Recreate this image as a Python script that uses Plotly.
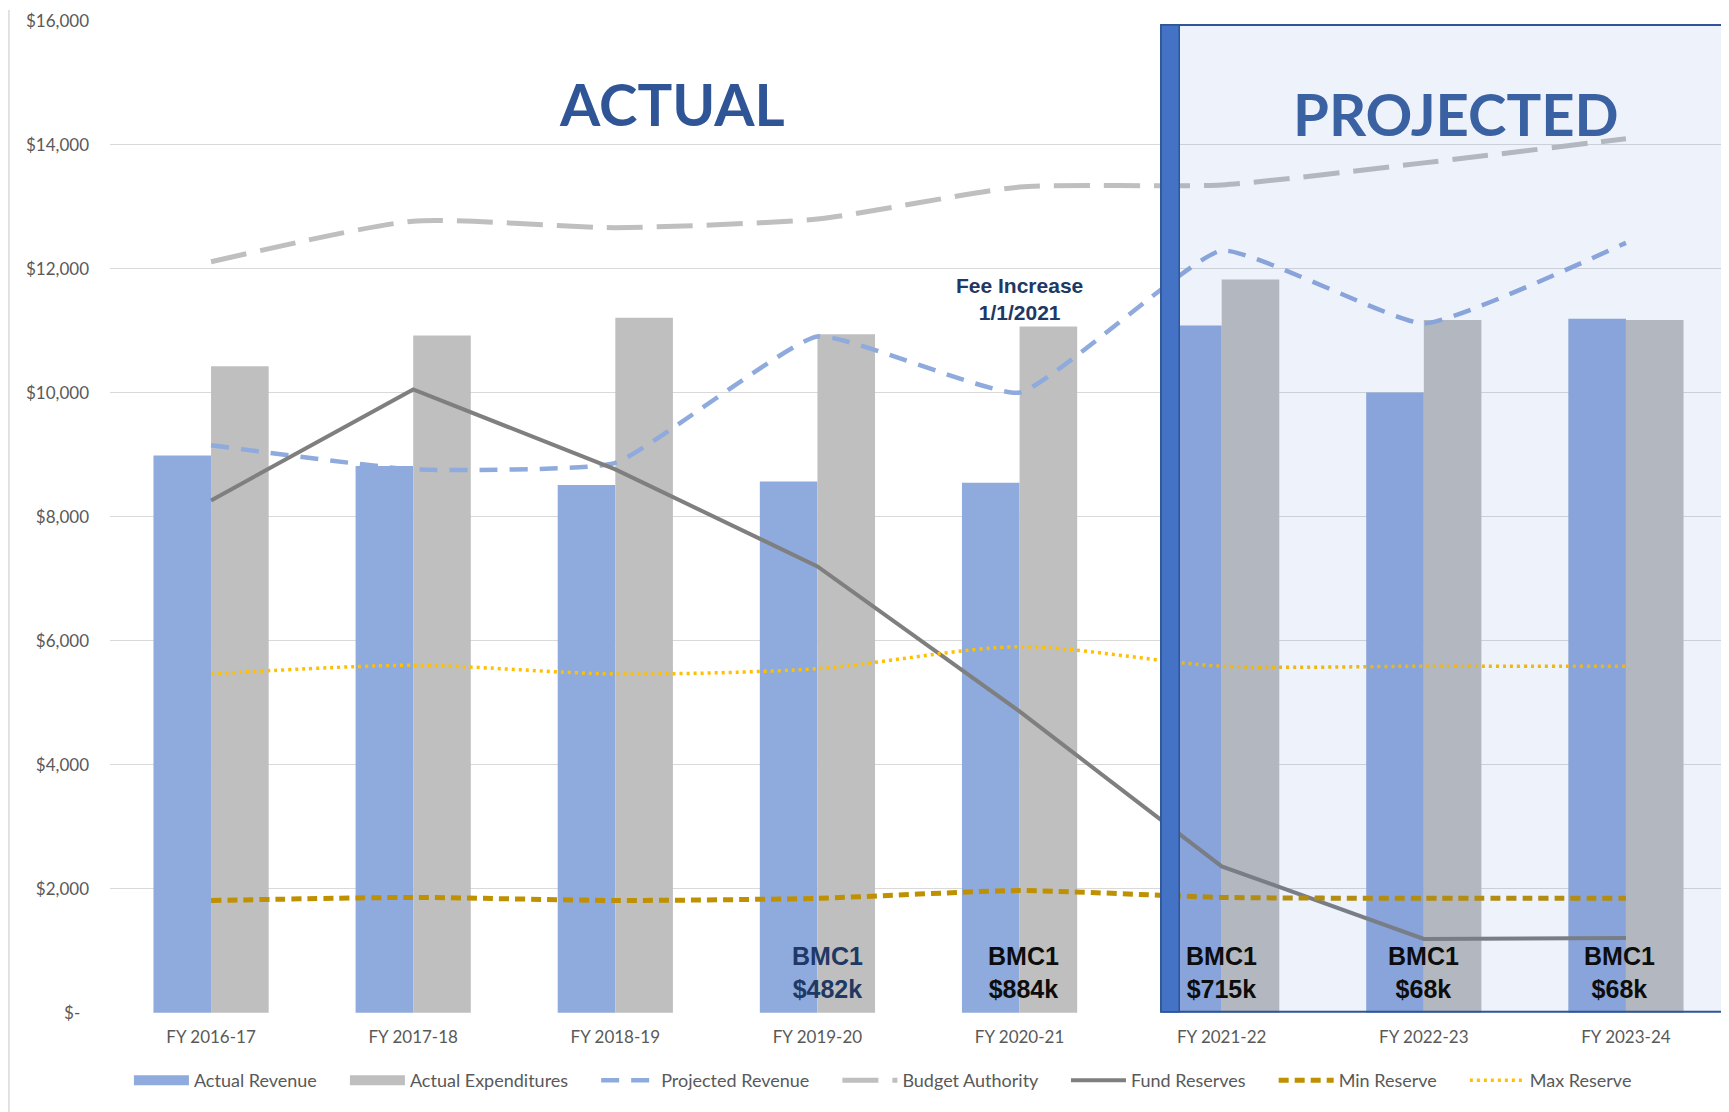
import plotly.graph_objects as go

categories = ["FY 2016-17", "FY 2017-18", "FY 2018-19", "FY 2019-20",
              "FY 2020-21", "FY 2021-22", "FY 2022-23", "FY 2023-24"]
actual_revenue = [8990, 8820, 8515, 8570, 8550, 11085, 10005, 11195]
actual_expenditures = [10430, 10925, 11210, 10945, 11070, 11830, 11175, 11175]
projected_revenue = [9155, 8765, 8870, 10910, 10005, 12295, 11120, 12420]
budget_authority = [12115, 12770, 12665, 12805, 13320, 13355, 13710, 14100]
fund_reserves = [8265, 10055, 8765, 7200, 4860, 2360, 1190, 1205]
min_reserve = [1810, 1860, 1810, 1845, 1970, 1860, 1845, 1845]
max_reserve = [5465, 5605, 5465, 5550, 5905, 5590, 5590, 5590]

ytick_vals = [0, 2000, 4000, 6000, 8000, 10000, 12000, 14000, 16000]
ytick_text = ["$-\u00a0\u00a0", "$2,000", "$4,000", "$6,000", "$8,000",
              "$10,000", "$12,000", "$14,000", "$16,000"]

bmc_labels = ["BMC1<br>$482k", "BMC1<br>$884k", "BMC1<br>$715k", "BMC1<br>$68k", "BMC1<br>$68k"]
bmc_x = [3.05, 4.02, 5.0, 6.0, 6.97]
bmc_colors = ["#203864", "#0D0D0D", "#0D0D0D", "#0D0D0D", "#0D0D0D"]

PAD = "\u00a0" * 5

fig = go.Figure()
fig.add_trace(go.Bar(name="Actual Revenue", x=categories, y=actual_revenue, showlegend=False,
                     marker=dict(color="#8FAADC", line=dict(width=0))))
fig.add_trace(go.Bar(name="Actual Expenditures", x=categories, y=actual_expenditures, showlegend=False,
                     marker=dict(color="#BFBFBF", line=dict(width=0))))
# legend swatches for the bar series (wide rectangles, as in the original)
fig.add_trace(go.Scatter(name="Actual Revenue" + PAD, x=[categories[0]], y=[None], mode="lines",
                         line=dict(color="#8FAADC", width=15)))
fig.add_trace(go.Scatter(name="Actual Expenditures" + PAD, x=[categories[0]], y=[None], mode="lines",
                         line=dict(color="#BFBFBF", width=15)))
fig.add_trace(go.Scatter(name="Projected Revenue" + PAD, x=categories, y=projected_revenue, mode="lines",
                         line=dict(color="#8FAADC", width=4.5, dash="18px,12px", shape="spline", smoothing=0.4)))
fig.add_trace(go.Scatter(name="Budget Authority" + PAD, x=categories, y=budget_authority, mode="lines",
                         line=dict(color="#BFBFBF", width=5, dash="36px,14px", shape="spline", smoothing=0.6)))
fig.add_trace(go.Scatter(name="Fund Reserves" + PAD, x=categories, y=fund_reserves, mode="lines",
                         line=dict(color="#7F7F7F", width=4)))
fig.add_trace(go.Scatter(name="Min Reserve" + PAD, x=categories, y=min_reserve, mode="lines",
                         line=dict(color="#BF9000", width=5, dash="10px,6px", shape="spline", smoothing=0.6)))
fig.add_trace(go.Scatter(name="Max Reserve", x=categories, y=max_reserve, mode="lines",
                         line=dict(color="#FFC000", width=3.5, dash="3px,4px", shape="spline", smoothing=0.8)))

annotations = [
    dict(x=2.28, y=14670, xref="x", yref="y", text="<b>ACTUAL</b>", showarrow=False,
         font=dict(family="Lato", size=58, color="#2F5597")),
    dict(x=6.16, y=14510, xref="x", yref="y", text="<b>PROJECTED</b>", showarrow=False,
         font=dict(family="Lato", size=58, color="#3A61A2")),
    dict(x=4.0, y=11520, xref="x", yref="y", text="<b>Fee Increase<br>1/1/2021</b>", showarrow=False,
         font=dict(family="Liberation Sans", size=21, color="#203864")),
]
for bx, bt, bc in zip(bmc_x, bmc_labels, bmc_colors):
    annotations.append(dict(x=bx, y=650, xref="x", yref="y", text="<b>" + bt + "</b>", showarrow=False,
                            font=dict(family="Liberation Sans", size=25, color=bc)))

shapes = [
    dict(type="rect", xref="x", yref="y", x0=4.70, x1=7.49, y0=16, y1=15936,
         fillcolor="rgba(68,114,196,0.09)", line=dict(color="#2F5597", width=2), layer="above"),
    dict(type="rect", xref="x", yref="y", x0=4.70, x1=4.79, y0=16, y1=15936,
         fillcolor="#4472C4", line=dict(color="#2F5597", width=1.5), layer="above"),
    dict(type="line", xref="paper", yref="paper", x0=-0.0625, x1=-0.0625, y0=-0.1, y1=1.01,
         line=dict(color="#D9D9D9", width=1.5)),
]

fig.update_layout(
    width=1721, height=1104,
    margin=dict(l=102, r=2, t=10, b=99),
    paper_bgcolor="white", plot_bgcolor="white",
    barmode="group", bargap=0.43, bargroupgap=0,
    font=dict(family="Lato", size=17, color="#595959"),
    showlegend=True,
    legend=dict(orientation="h", x=0.478, xanchor="center", y=-0.068, yanchor="middle",
                itemwidth=55, font=dict(family="Lato", size=18, color="#595959"), traceorder="normal"),
    annotations=annotations,
    shapes=shapes,
)
fig.update_xaxes(showgrid=False, showline=False, ticks="", ticklabelstandoff=12,
                 tickfont=dict(family="Lato", size=17, color="#595959"))
fig.update_yaxes(range=[-5, 16015], tickvals=ytick_vals, ticktext=ytick_text,
                 showgrid=True, gridcolor="#D9D9D9", gridwidth=1.3, zeroline=False,
                 showline=False, ticks="", ticklabeloverflow="allow",
                 ticklabelstandoff=20, tickfont=dict(family="Lato", size=17, color="#595959"))

fig.write_html("out.html")
